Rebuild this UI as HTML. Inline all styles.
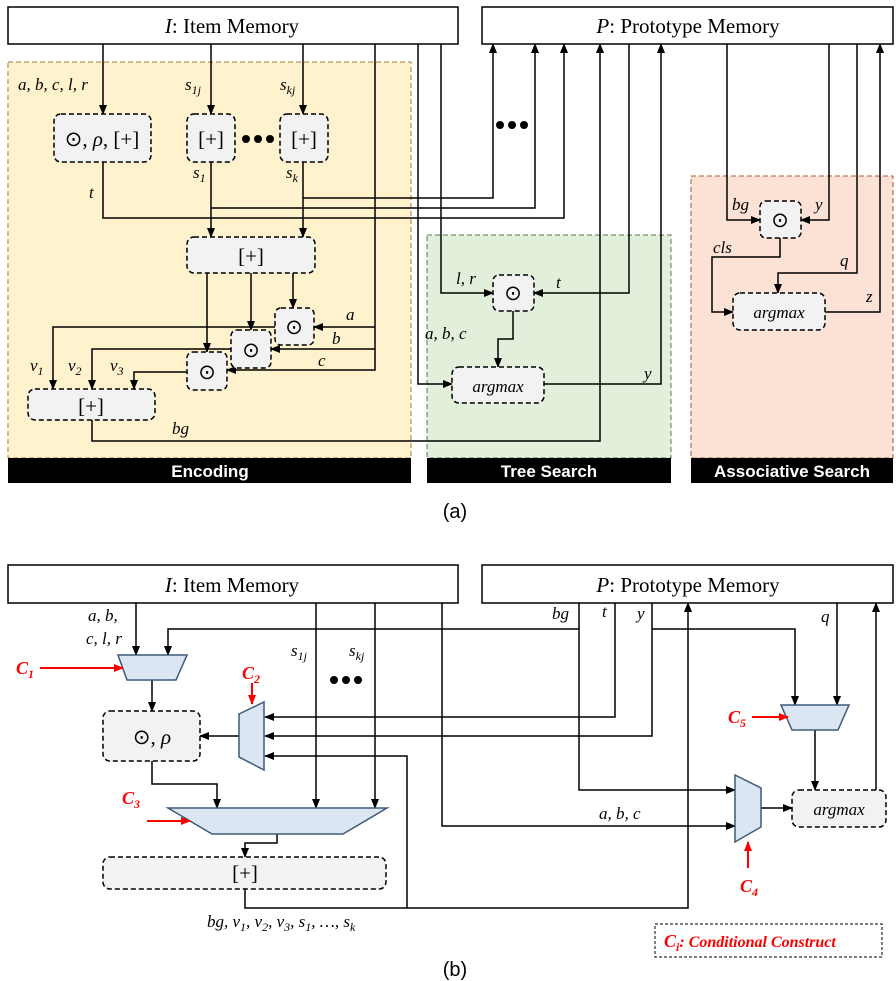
<!DOCTYPE html>
<html><head><meta charset="utf-8"><style>
html,body{margin:0;padding:0;background:#fff}
svg{display:block}
.s{font-family:"Liberation Serif",serif;font-style:italic;font-size:17px}
.t{font-family:"Liberation Serif",serif;font-size:21px}
.bar{font-family:"Liberation Sans",sans-serif;font-weight:bold;font-size:17px;fill:#fff}
.r{font-family:"Liberation Serif",serif;font-style:italic;font-weight:bold;font-size:18px;fill:#f00}
.cap{font-family:"Liberation Sans",sans-serif;font-size:20px}
</style></head><body>
<svg width="896" height="981" viewBox="0 0 896 981" xmlns="http://www.w3.org/2000/svg">
<defs>
<marker id="a" markerWidth="10" markerHeight="8" refX="9" refY="4" orient="auto" markerUnits="userSpaceOnUse"><path d="M0,0 L10,4 L0,8 z" fill="#000"/></marker>
<marker id="ra" markerWidth="10" markerHeight="8" refX="9" refY="4" orient="auto" markerUnits="userSpaceOnUse"><path d="M0,0 L10,4 L0,8 z" fill="#f00"/></marker>
</defs>
<!-- regions (a) -->
<rect x="8" y="62" width="403" height="396" fill="#fff2cc" stroke="#a08030" stroke-dasharray="5,3"/>
<rect x="427" y="235" width="244" height="223" fill="#e2efda" stroke="#5a7a4a" stroke-dasharray="5,3"/>
<rect x="691" y="176" width="202" height="282" fill="#fbe2d5" stroke="#a05a30" stroke-dasharray="5,3"/>
<rect x="8" y="458" width="403" height="25" fill="#000"/>
<rect x="427" y="458" width="244" height="25" fill="#000"/>
<rect x="691" y="458" width="202" height="25" fill="#000"/>
<text class="bar" x="210" y="477" text-anchor="middle">Encoding</text>
<text class="bar" x="549" y="477" text-anchor="middle">Tree Search</text>
<text class="bar" x="792" y="477" text-anchor="middle">Associative Search</text>
<!-- memories (a) -->
<rect x="8" y="7" width="450" height="37" fill="#fff" stroke="#000" stroke-width="1.5"/>
<rect x="482" y="7" width="411" height="37" fill="#fff" stroke="#000" stroke-width="1.5"/>
<text class="t" x="232" y="33" text-anchor="middle"><tspan font-style="italic">I</tspan>: Item Memory</text>
<text class="t" x="688" y="33" text-anchor="middle"><tspan font-style="italic">P</tspan>: Prototype Memory</text>
<g fill="none" stroke="#000" stroke-width="1.5">
<line x1="103" y1="44" x2="103" y2="114" marker-end="url(#a)"/>
<line x1="211" y1="44" x2="211" y2="114" marker-end="url(#a)"/>
<line x1="303" y1="44" x2="303" y2="114" marker-end="url(#a)"/>
<polyline points="103,162 103,218 564,218 564,44" marker-end="url(#a)"/>
<polyline points="211,162 211,237" marker-end="url(#a)"/>
<polyline points="303,162 303,237" marker-end="url(#a)"/>
<polyline points="211,208 535,208 535,44" marker-end="url(#a)"/>
<polyline points="303,198 493,198 493,44" marker-end="url(#a)"/>
<line x1="207" y1="273" x2="207" y2="352" marker-end="url(#a)"/>
<line x1="251" y1="273" x2="251" y2="330" marker-end="url(#a)"/>
<line x1="293" y1="273" x2="293" y2="308" marker-end="url(#a)"/>
<polyline points="375,44 375,370 227,370" marker-end="url(#a)"/>
<line x1="375" y1="327" x2="314" y2="327" marker-end="url(#a)"/>
<line x1="375" y1="349" x2="271" y2="349" marker-end="url(#a)"/>
<polyline points="275,327 53,327 53,389" marker-end="url(#a)"/>
<polyline points="231,349 92,349 92,389" marker-end="url(#a)"/>
<polyline points="187,372 134,372 134,389" marker-end="url(#a)"/>
<polyline points="92,420 92,441 600,441 600,44" marker-end="url(#a)"/>
<polyline points="418,44 418,384 452,384" marker-end="url(#a)"/>
<polyline points="441,44 441,293 493,293" marker-end="url(#a)"/>
<polyline points="629,44 629,293 534,293" marker-end="url(#a)"/>
<polyline points="513,311 513,339 498,339 498,367" marker-end="url(#a)"/>
<polyline points="544,384 661,384 661,44" marker-end="url(#a)"/>
<polyline points="727,44 727,220 760,220" marker-end="url(#a)"/>
<polyline points="829,44 829,220 801,220" marker-end="url(#a)"/>
<polyline points="780,238 780,257 712,257 712,312 733,312" marker-end="url(#a)"/>
<polyline points="857,44 857,273 778,273 778,293" marker-end="url(#a)"/>
<polyline points="825,312 880,312 880,44" marker-end="url(#a)"/>
</g>
<g fill="#f2f2f2" stroke="#000" stroke-width="1.5" stroke-dasharray="5,3">
<rect x="54" y="114" width="97" height="48" rx="7"/>
<rect x="187" y="114" width="48" height="48" rx="7"/>
<rect x="280" y="114" width="48" height="48" rx="7"/>
<rect x="187" y="237" width="128" height="36" rx="7"/>
<rect x="275" y="308" width="39" height="37" rx="6"/>
<rect x="231" y="330" width="40" height="38" rx="6"/>
<rect x="187" y="352" width="40" height="38" rx="6"/>
<rect x="28" y="389" width="127" height="31" rx="7"/>
<rect x="493" y="275" width="41" height="36" rx="6"/>
<rect x="452" y="367" width="92" height="36" rx="7"/>
<rect x="760" y="201" width="41" height="37" rx="6"/>
<rect x="733" y="293" width="92" height="37" rx="7"/>
</g>
<g class="t" text-anchor="middle" font-size="20">
<text x="102" y="146">⊙, <tspan font-style="italic">ρ</tspan>, [+]</text>
<text x="211" y="146">[+]</text>
<text x="304" y="146">[+]</text>
<text x="251" y="263">[+]</text>
<text x="294" y="334">⊙</text>
<text x="251" y="357">⊙</text>
<text x="207" y="379">⊙</text>
<text x="91" y="413">[+]</text>
<text x="513" y="300">⊙</text>
<text x="780" y="227">⊙</text>
</g>
<g class="s" font-size="19" text-anchor="middle">
<text x="498" y="392">argmax</text>
<text x="779" y="318">argmax</text>
</g>
<g fill="#000"><circle cx="246" cy="139" r="4"/><circle cx="258" cy="139" r="4"/><circle cx="270" cy="139" r="4"/>
<circle cx="500" cy="125" r="4"/><circle cx="512" cy="125" r="4"/><circle cx="524" cy="125" r="4"/></g>
<g class="s">
<text x="18" y="90">a, b, c, l, r</text>
<text x="185" y="90">s<tspan font-size="12" dy="4">1j</tspan></text>
<text x="280" y="90">s<tspan font-size="12" dy="4">kj</tspan></text>
<text x="193" y="178">s<tspan font-size="12" dy="4">1</tspan></text>
<text x="286" y="178">s<tspan font-size="12" dy="4">k</tspan></text>
<text x="89" y="198">t</text>
<text x="346" y="320">a</text>
<text x="332" y="344">b</text>
<text x="318" y="366">c</text>
<text x="30" y="371">v<tspan font-size="12" dy="4">1</tspan></text>
<text x="68" y="371">v<tspan font-size="12" dy="4">2</tspan></text>
<text x="110" y="371">v<tspan font-size="12" dy="4">3</tspan></text>
<text x="172" y="434">bg</text>
<text x="456" y="284">l, r</text>
<text x="556" y="288">t</text>
<text x="425" y="339">a, b, c</text>
<text x="644" y="379">y</text>
<text x="732" y="210">bg</text>
<text x="815" y="210">y</text>
<text x="713" y="253">cls</text>
<text x="840" y="266">q</text>
<text x="866" y="302">z</text>
</g>
<text class="cap" x="455" y="518" text-anchor="middle">(a)</text>

<!-- (b) -->
<rect x="8" y="565" width="450" height="38" fill="#fff" stroke="#000" stroke-width="1.5"/>
<rect x="482" y="565" width="411" height="38" fill="#fff" stroke="#000" stroke-width="1.5"/>
<text class="t" x="232" y="592" text-anchor="middle"><tspan font-style="italic">I</tspan>: Item Memory</text>
<text class="t" x="688" y="592" text-anchor="middle"><tspan font-style="italic">P</tspan>: Prototype Memory</text>
<g fill="none" stroke="#000" stroke-width="1.5">
<line x1="136" y1="603" x2="136" y2="655" marker-end="url(#a)"/>
<line x1="316" y1="603" x2="316" y2="808" marker-end="url(#a)"/>
<line x1="375" y1="603" x2="375" y2="808" marker-end="url(#a)"/>
<polyline points="442,603 442,826 735,826" marker-end="url(#a)"/>
<polyline points="579,603 579,790 735,790" marker-end="url(#a)"/>
<polyline points="579,629 168,629 168,655" marker-end="url(#a)"/>
<polyline points="615,603 615,717 265,717" marker-end="url(#a)"/>
<polyline points="652,603 652,736 265,736" marker-end="url(#a)"/>
<polyline points="652,629 795,629 795,705" marker-end="url(#a)"/>
<line x1="837" y1="603" x2="837" y2="705" marker-end="url(#a)"/>
<line x1="876" y1="790" x2="876" y2="603" marker-end="url(#a)"/>
<polyline points="245,889 245,908 688,908 688,603" marker-end="url(#a)"/>
<polyline points="407,908 407,756 265,756" marker-end="url(#a)"/>
<line x1="152" y1="680" x2="152" y2="711" marker-end="url(#a)"/>
<line x1="239" y1="736" x2="200" y2="736" marker-end="url(#a)"/>
<polyline points="152,761 152,784 217,784 217,808" marker-end="url(#a)"/>
<polyline points="277,834 277,843 245,843 245,857" marker-end="url(#a)"/>
<line x1="815" y1="730" x2="815" y2="790" marker-end="url(#a)"/>
<line x1="761" y1="808" x2="792" y2="808" marker-end="url(#a)"/>
</g>
<g fill="#dce6f2" stroke="#3c5a7a" stroke-width="1.5">
<polygon points="118,655 187,655 176,680 127,680"/>
<polygon points="239,714 264,702 264,770 239,757"/>
<polygon points="168,808 387,808 343,834 212,834"/>
<polygon points="781,705 849,705 838,730 792,730"/>
<polygon points="735,775 761,788 761,827 735,842"/>
</g>
<g fill="#f2f2f2" stroke="#000" stroke-width="1.5" stroke-dasharray="5,3">
<rect x="103" y="711" width="97" height="50" rx="7"/>
<rect x="103" y="857" width="283" height="32" rx="7"/>
<rect x="792" y="790" width="94" height="37" rx="7"/>
</g>
<rect x="655" y="924" width="227" height="33" fill="none" stroke="#000" stroke-dasharray="3,2"/>
<text class="t" x="152" y="744" text-anchor="middle" font-size="20">⊙, <tspan font-style="italic">ρ</tspan></text>
<text class="t" x="245" y="880" text-anchor="middle" font-size="20">[+]</text>
<text class="s" x="839" y="815" text-anchor="middle" font-size="19">argmax</text>
<g fill="#000"><circle cx="334" cy="680" r="4"/><circle cx="346" cy="680" r="4"/><circle cx="358" cy="680" r="4"/></g>
<g class="s">
<text x="88" y="621">a, b,</text>
<text x="86" y="644">c, l, r</text>
<text x="291" y="656">s<tspan font-size="12" dy="4">1j</tspan></text>
<text x="349" y="656">s<tspan font-size="12" dy="4">kj</tspan></text>
<text x="552" y="619">bg</text>
<text x="602" y="617">t</text>
<text x="637" y="619">y</text>
<text x="821" y="622">q</text>
<text x="599" y="819">a, b, c</text>
<text x="207" y="927">bg, v<tspan font-size="12" dy="4">1</tspan><tspan dy="-4">, v</tspan><tspan font-size="12" dy="4">2</tspan><tspan dy="-4">, v</tspan><tspan font-size="12" dy="4">3</tspan><tspan dy="-4">, s</tspan><tspan font-size="12" dy="4">1</tspan><tspan dy="-4">, …, s</tspan><tspan font-size="12" dy="4">k</tspan></text>
</g>
<g stroke="#f00" stroke-width="2" fill="none">
<line x1="40" y1="668" x2="123" y2="668" marker-end="url(#ra)"/>
<line x1="252" y1="683" x2="252" y2="704" marker-end="url(#ra)"/>
<line x1="147" y1="821" x2="190" y2="821" marker-end="url(#ra)"/>
<line x1="752" y1="717" x2="788" y2="717" marker-end="url(#ra)"/>
<line x1="748" y1="868" x2="748" y2="842" marker-end="url(#ra)"/>
</g>
<g class="r">
<text x="16" y="674">C<tspan font-size="12" dy="4">1</tspan></text>
<text x="242" y="679">C<tspan font-size="12" dy="4">2</tspan></text>
<text x="122" y="804">C<tspan font-size="12" dy="4">3</tspan></text>
<text x="740" y="892">C<tspan font-size="12" dy="4">4</tspan></text>
<text x="728" y="723">C<tspan font-size="12" dy="4">5</tspan></text>
<text x="664" y="947">C<tspan font-size="12" dy="4">i</tspan><tspan dy="-4" font-size="16">: Conditional Construct</tspan></text>
</g>
<text class="cap" x="455" y="976" text-anchor="middle">(b)</text>
</svg>
</body></html>
